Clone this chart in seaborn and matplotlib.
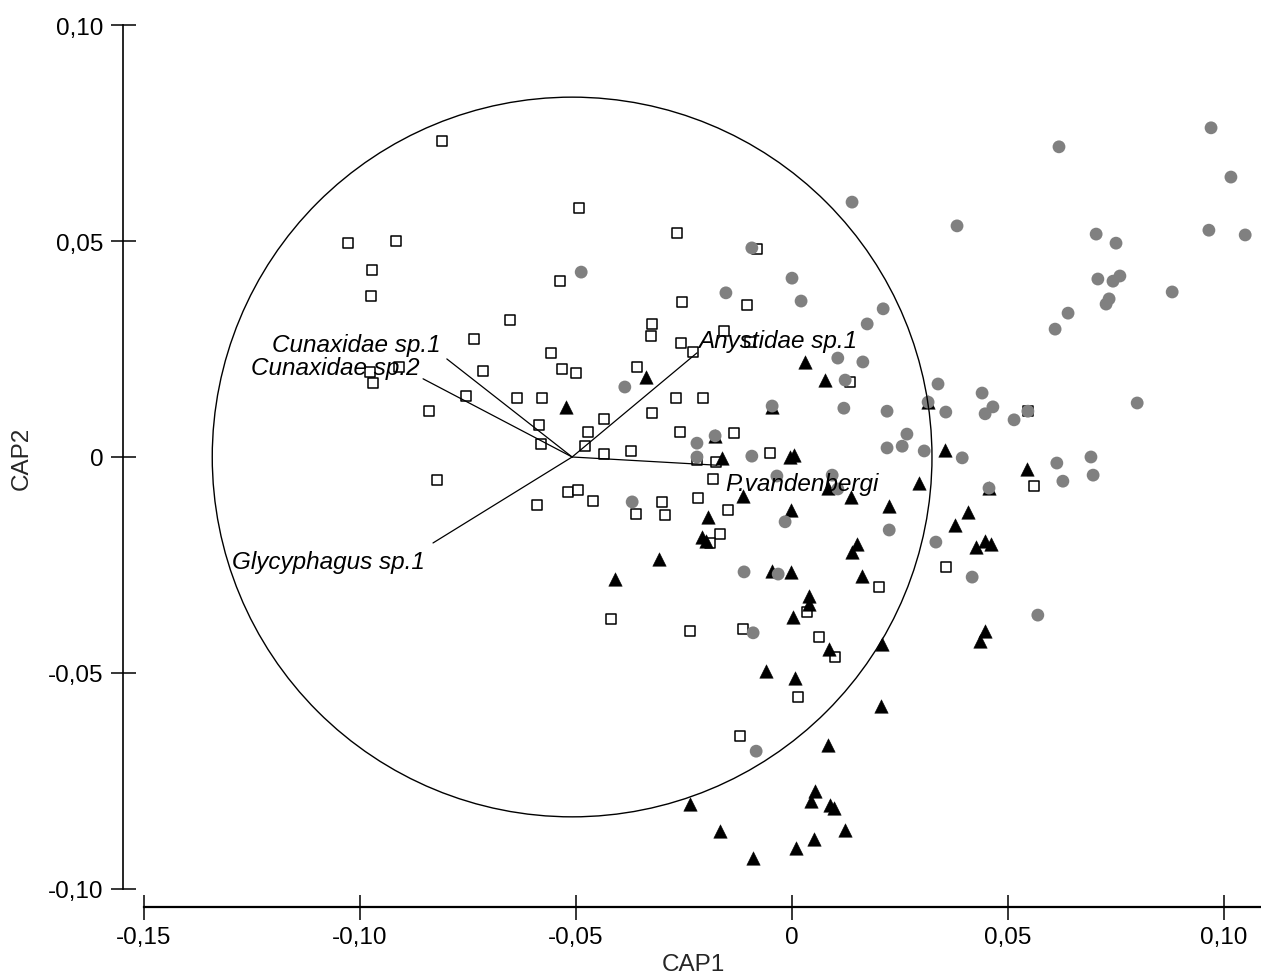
import matplotlib
matplotlib.use("Agg")
import matplotlib.pyplot as plt
from matplotlib.patches import Circle
import seaborn as sns
import pandas as pd

# ---- sample scores on the two canonical axes, one set per group ----
squares_cap1 = [-0.0810, -0.1028, -0.0917, -0.0972, -0.0975, -0.0493, -0.0537, -0.0653, -0.0736, -0.0715,
                -0.0558, -0.0532, -0.0500, -0.0977, -0.0970, -0.0910, -0.0755, -0.0637, -0.0579, -0.0840,
                -0.0586, -0.0581, -0.0472, -0.0479, -0.0822, -0.0519, -0.0495, -0.0461, -0.0590, -0.0266,
                -0.0081, -0.0255, -0.0104, -0.0324, -0.0326, -0.0257, -0.0157, -0.0097, -0.0229, -0.0359,
                -0.0269, -0.0206, -0.0324, -0.0435, -0.0435, -0.0373, -0.0259, -0.0134, -0.0220, -0.0176,
                -0.0183, -0.0051, 0.0134, 0.0546, 0.0560, -0.0361, -0.0301, -0.0294, -0.0218, -0.0148,
                -0.0167, -0.0190, -0.0419, -0.0236, -0.0113, 0.0063, 0.0035, 0.0100, 0.0014, -0.0120,
                0.0201, 0.0356]
squares_cap2 = [0.0731, 0.0495, 0.0500, 0.0433, 0.0373, 0.0576, 0.0407, 0.0317, 0.0273, 0.0199,
                0.0241, 0.0204, 0.0194, 0.0197, 0.0171, 0.0208, 0.0141, 0.0137, 0.0137, 0.0106,
                0.0074, 0.0030, 0.0058, 0.0025, -0.0053, -0.0081, -0.0076, -0.0102, -0.0111, 0.0519,
                0.0481, 0.0359, 0.0352, 0.0308, 0.0280, 0.0264, 0.0292, 0.0266, 0.0243, 0.0208,
                0.0137, 0.0137, 0.0102, 0.0088, 0.0007, 0.0014, 0.0058, 0.0056, -0.0007, -0.0012,
                -0.0051, 0.0009, 0.0174, 0.0106, -0.0067, -0.0132, -0.0104, -0.0134, -0.0095, -0.0123,
                -0.0178, -0.0199, -0.0375, -0.0403, -0.0398, -0.0417, -0.0359, -0.0463, -0.0556, -0.0646,
                -0.0301, -0.0255]

circles_cap1 = [-0.0488, -0.0153, -0.0093, 0.0000, 0.0021, 0.0139, 0.0382, 0.0211, 0.0174, 0.0106,
                0.0164, 0.0123, -0.0387, 0.0338, 0.0440, 0.0618, 0.0970, 0.1016, 0.0965, 0.1049,
                0.0704, 0.0750, 0.0708, 0.0743, 0.0759, 0.0734, 0.0727, 0.0880, 0.0639, 0.0609,
                0.0799, -0.0046, 0.0120, 0.0220, 0.0266, 0.0255, 0.0220, 0.0306, 0.0315, 0.0356,
                0.0447, 0.0465, 0.0514, 0.0546, -0.0220, -0.0178, -0.0220, -0.0093, -0.0035, 0.0093,
                0.0106, -0.0016, 0.0225, 0.0333, 0.0394, 0.0613, 0.0627, 0.0692, 0.0697, 0.0456,
                0.0417, 0.0569, -0.0370, -0.0111, -0.0032, -0.0090, -0.0083]
circles_cap2 = [0.0428, 0.0380, 0.0484, 0.0414, 0.0361, 0.0590, 0.0535, 0.0343, 0.0308, 0.0229,
                0.0220, 0.0178, 0.0162, 0.0169, 0.0148, 0.0718, 0.0762, 0.0648, 0.0525, 0.0514,
                0.0516, 0.0495, 0.0412, 0.0407, 0.0419, 0.0366, 0.0354, 0.0382, 0.0333, 0.0296,
                0.0125, 0.0118, 0.0113, 0.0106, 0.0053, 0.0025, 0.0021, 0.0014, 0.0127, 0.0104,
                0.0100, 0.0116, 0.0086, 0.0106, 0.0032, 0.0049, 0.0000, 0.0002, -0.0044, -0.0042,
                -0.0074, -0.0150, -0.0169, -0.0197, -0.0002, -0.0014, -0.0056, 0.0000, -0.0042, -0.0072,
                -0.0278, -0.0366, -0.0104, -0.0266, -0.0271, -0.0407, -0.0681]

triangles_cap1 = [-0.0338, -0.0523, 0.0030, 0.0076, -0.0162, -0.0005, 0.0005, -0.0046, -0.0178, 0.0315,
                  -0.0113, 0.0083, 0.0137, 0.0294, 0.0225, -0.0002, -0.0194, -0.0209, -0.0199, -0.0308,
                  -0.0410, -0.0046, -0.0002, 0.0150, 0.0139, 0.0162, 0.0039, 0.0039, 0.0002, 0.0086,
                  -0.0060, 0.0007, 0.0208, 0.0206, 0.0083, 0.0053, 0.0044, 0.0088, 0.0097, -0.0236,
                  -0.0167, 0.0123, 0.0051, 0.0009, -0.0090, 0.0354, 0.0544, 0.0407, 0.0377, 0.0447,
                  0.0461, 0.0426, 0.0456, 0.0447, 0.0435]
triangles_cap2 = [0.0185, 0.0116, 0.0220, 0.0178, -0.0002, 0.0000, 0.0005, 0.0116, 0.0049, 0.0127,
                  -0.0090, -0.0072, -0.0093, -0.0060, -0.0113, -0.0123, -0.0139, -0.0185, -0.0195, -0.0236,
                  -0.0282, -0.0264, -0.0266, -0.0201, -0.0220, -0.0275, -0.0322, -0.0340, -0.0370, -0.0444,
                  -0.0495, -0.0512, -0.0433, -0.0576, -0.0667, -0.0773, -0.0796, -0.0806, -0.0813, -0.0803,
                  -0.0866, -0.0863, -0.0884, -0.0905, -0.0928, 0.0016, -0.0028, -0.0127, -0.0157, -0.0194,
                  -0.0201, -0.0208, -0.0072, -0.0403, -0.0426]

# ---- species correlation vectors (origin = centre of the correlation circle) ----
vector_origin = (-0.0509, 0.0)
circle_radius = 0.0833
vector_names = ["Cunaxidae sp.1", "Cunaxidae sp.2", "Anystidae sp.1", "P.vandenbergi", "Glycyphagus sp.1"]
vector_cap1 = [-0.0799, -0.0854, -0.0220, -0.0174, -0.0831]
vector_cap2 = [0.0227, 0.0181, 0.0241, -0.0019, -0.0199]

# ---- axis ticks ----
xtick_values = [-0.15, -0.10, -0.05, 0.0, 0.05, 0.10]
xtick_labels = ["-0,15", "-0,10", "-0,05", "0", "0,05", "0,10"]
ytick_values = [-0.10, -0.05, 0.0, 0.05, 0.10]
ytick_labels = ["-0,10", "-0,05", "0", "0,05", "0,10"]

sns.set_style("white")
plt.rcParams["font.family"] = ["Liberation Sans", "DejaVu Sans"]
FS = 17.5

W, H = 1261, 978
fig = plt.figure(figsize=(W / 100, H / 100), dpi=100)
# axes placed so that both axes share the same scale (equal aspect)
ax = fig.add_axes([123 / W, (H - 908) / H, (W - 123) / W, 888 / H])
ax.set_xlim(-0.15486, 0.10856)
ax.set_ylim(-0.10417, 0.10139)

squares = pd.DataFrame({"CAP1": squares_cap1, "CAP2": squares_cap2})
circles = pd.DataFrame({"CAP1": circles_cap1, "CAP2": circles_cap2})
triangles = pd.DataFrame({"CAP1": triangles_cap1, "CAP2": triangles_cap2})

sns.scatterplot(data=squares, x="CAP1", y="CAP2", marker="s", s=58, color="white",
                edgecolor="black", linewidth=1.1, ax=ax, legend=False, zorder=3, clip_on=False)
sns.scatterplot(data=triangles, x="CAP1", y="CAP2", marker="^", s=95, color="black",
                edgecolor="black", linewidth=0.3, ax=ax, legend=False, zorder=4, clip_on=False)
sns.scatterplot(data=circles, x="CAP1", y="CAP2", marker="o", s=85, color="#808080",
                edgecolor="none", linewidth=0, ax=ax, legend=False, zorder=5, clip_on=False)

# correlation circle and vectors
ax.add_patch(Circle(vector_origin, circle_radius, fill=False, edgecolor="black", linewidth=1.0, zorder=6))
for vx, vy in zip(vector_cap1, vector_cap2):
    ax.plot([vector_origin[0], vx], [vector_origin[1], vy], color="black", linewidth=0.9, zorder=6)

label_style = dict(fontsize=FS, fontstyle="italic", color="black", va="baseline", zorder=7)
ax.text(-0.0813, 0.0246, vector_names[0], ha="right", **label_style)
ax.text(-0.0861, 0.0192, vector_names[1], ha="right", **label_style)
ax.text(-0.0218, 0.0255, vector_names[2], ha="left", **label_style)
ax.text(-0.0155, -0.0076, vector_names[3], ha="left", **label_style)
ax.text(-0.0850, -0.0257, vector_names[4], ha="right", **label_style)

# axes styling: detached spines with crossing ticks
for side in ("top", "right"):
    ax.spines[side].set_visible(False)
ax.spines["left"].set_bounds(-0.10, 0.10)
ax.spines["left"].set_linewidth(1.2)
ax.spines["bottom"].set_bounds(-0.15, 0.10856)
ax.spines["bottom"].set_linewidth(1.6)
ax.spines["left"].set_color("black")
ax.spines["bottom"].set_color("black")

ax.set_xticks(xtick_values)
ax.set_xticklabels(xtick_labels)
ax.set_yticks(ytick_values)
ax.set_yticklabels(ytick_labels)
ax.tick_params(axis="both", which="major", bottom=True, left=True, top=False, right=False,
               direction="inout", length=18, width=1.1, color="black",
               labelsize=FS, pad=5, labelcolor="black")
ax.set_xlabel("")
ax.set_ylabel("")

fig.text(693 / W, 1 - 965 / H, "CAP1", ha="center", va="center", fontsize=FS)
fig.text(22 / W, 1 - 458 / H, "CAP2", ha="center", va="center", rotation=90, fontsize=FS)

fig.savefig("out.png", dpi=100, facecolor="white")
